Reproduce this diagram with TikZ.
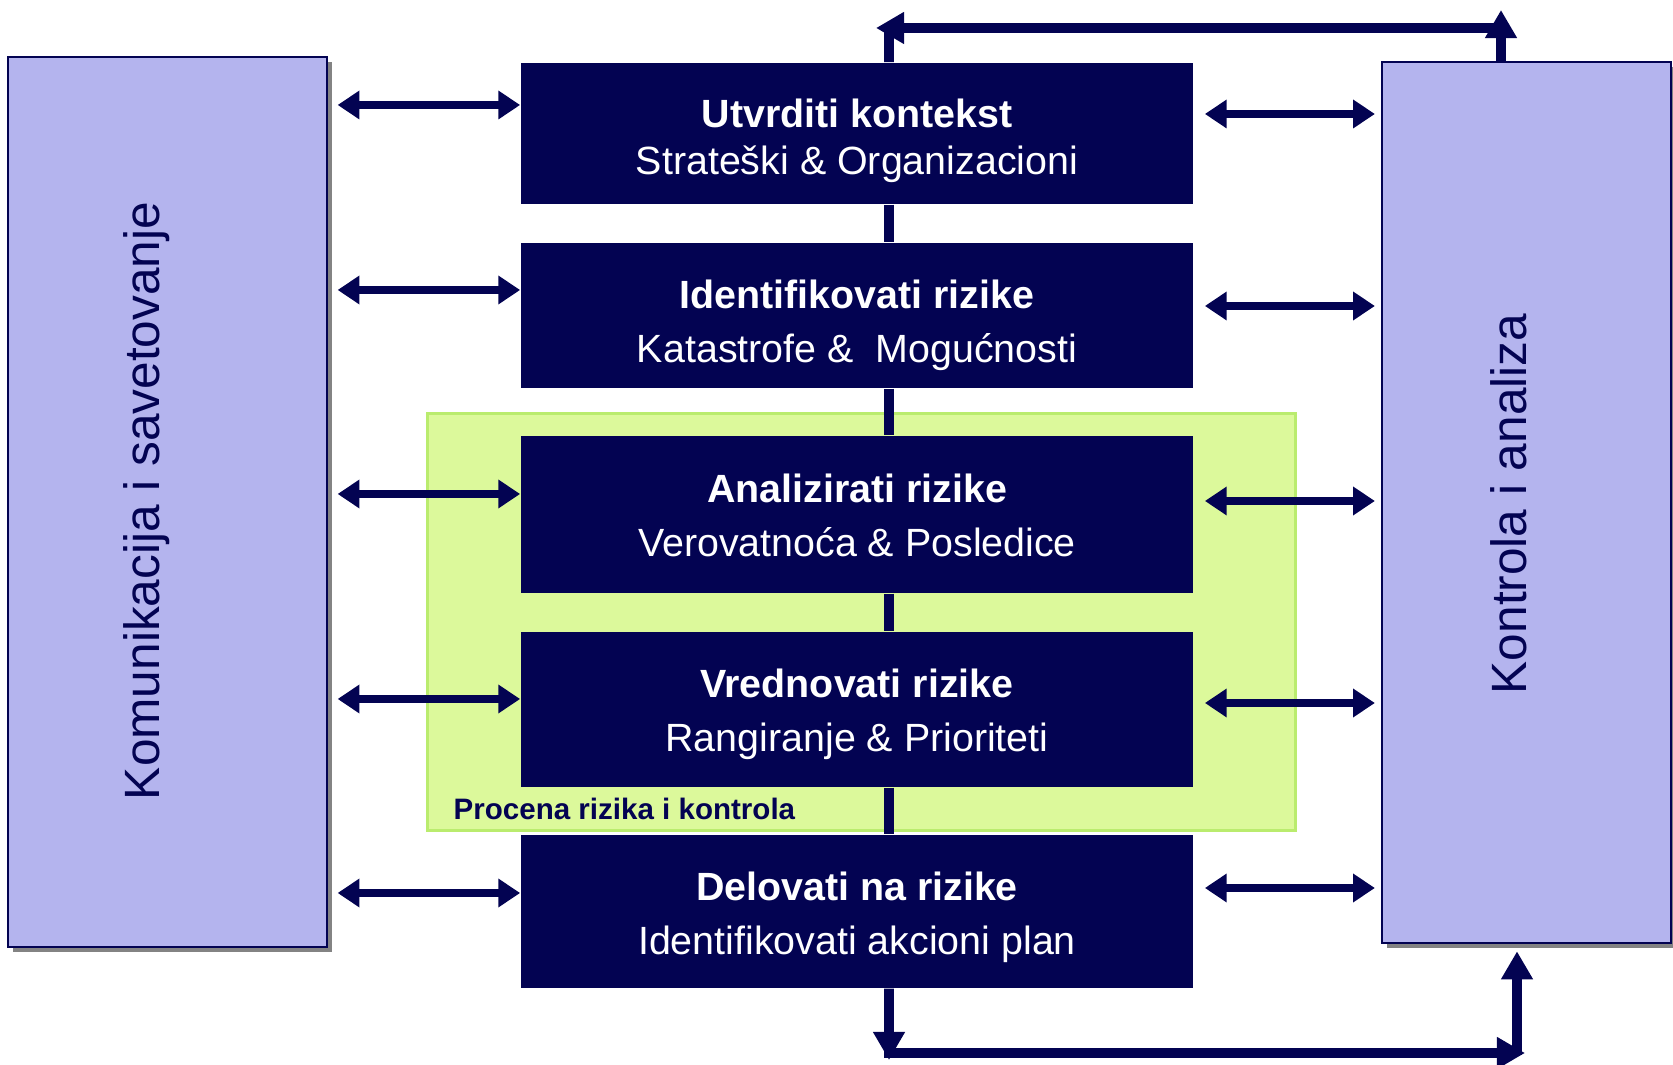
\documentclass[tikz,border=0pt]{standalone}
\usepackage{fontspec}
\setmainfont{Liberation Sans}
\usetikzlibrary{positioning,arrows.meta,shadows,calc}
\definecolor{deepnavy}{RGB}{3,3,82}
\definecolor{lilacbg}{RGB}{180,180,238}
\definecolor{limebg}{RGB}{220,249,155}
\definecolor{limedraw}{RGB}{186,236,110}

\begin{document}
\begin{tikzpicture}[x=0.01cm,y=-0.01cm,
    stagebox/.style={fill=deepnavy,minimum width=6.72cm,inner sep=0pt},
    stagetext/.style={text=white,inner sep=0pt,align=center,font=\fontsize{11.2}{13.4}\selectfont},
    sidebox/.style={fill=lilacbg,draw=deepnavy,line width=.6pt,inner sep=0pt,drop shadow={shadow xshift=.05cm,shadow yshift=-.05cm,fill=black!65,opacity=.75}},
    sidetext/.style={rotate=90,text=deepnavy,inner sep=0pt,font=\fontsize{14.1}{16}\selectfont},
    duoarrow/.style={{Triangle[length=6.2pt,width=7.8pt]}-{Triangle[length=6.2pt,width=7.8pt]},line width=2.3pt,deepnavy},
    loopline/.style={line width=2.8pt,deepnavy},
    looptip/.style={loopline,-{Triangle[length=8pt,width=8.6pt]}},
    spine/.style={line width=2.7pt,deepnavy}]
    \useasboundingbox (0,0) rectangle (1673,1065);
    % side panels
    \node[sidebox,minimum width=3.18cm,minimum height=8.89cm] (talk) at (167.5,502) {};
    \node[sidebox,minimum width=2.89cm,minimum height=8.81cm] (ctrl) at (1526.5,502.5) {};
    \node[sidetext] (talklabel) at (147,501) {Komunikacija i savetovanje};
    \node[sidetext] (ctrllabel) at (1509,504) {Kontrola i analiza};
    % assessment zone
    \node[fill=limebg,draw=limedraw,line width=.8pt,minimum width=8.67cm,minimum height=4.16cm] (zone) at (861.5,622) {};
    \node[anchor=west,inner sep=0pt,text=deepnavy,font=\fontsize{8.4}{10}\selectfont\bfseries] (zonelabel) at (453,809) {Procena rizika i kontrola};
    % process steps
    \node[stagebox,minimum height=1.41cm] (b1) at (857,133.5) {};
    \node[stagebox,minimum height=1.45cm] (b2) at (857,315.5) {};
    \node[stagebox,minimum height=1.57cm] (b3) at (857,514.5) {};
    \node[stagebox,minimum height=1.55cm] (b4) at (857,709.5) {};
    \node[stagebox,minimum height=1.53cm] (b5) at (857,911.5) {};
    \node[stagetext] (t1) at ([yshift=-.075cm]b1.center) {\textbf{Utvrditi kontekst}\\Strateški \& Organizacioni};
    \node[stagetext] (t2) at ([yshift=-.1cm]b2.center) {\textbf{Identifikovati rizike}\\[2pt]Katastrofe \& \ Mogućnosti};
    \node[stagetext] (t3) at ([yshift=-.01cm]b3.center) {\textbf{Analizirati rizike}\\[2pt]Verovatnoća \& Posledice};
    \node[stagetext] (t4) at ([yshift=-.05cm]b4.center) {\textbf{Vrednovati rizike}\\[2pt]Rangiranje \& Prioriteti};
    \node[stagetext] (t5) at ([yshift=-.06cm]b5.center) {\textbf{Delovati na rizike}\\[2pt]Identifikovati akcioni plan};
    \foreach \a/\b in {b1/b2,b2/b3,b3/b4,b4/b5}{\draw[spine] ([xshift=.32cm]\a.south) -- ([xshift=.32cm]\b.north);}
    % links to the side panels
    \foreach \b/\y in {b1/105,b2/290,b3/494,b4/699,b5/893}{\draw[duoarrow] ($(talk.east |- 0,\y)+(10,0)$) -- (\b.west |- 0,\y);}
    \foreach \b/\y in {b1/114,b2/306,b3/501,b4/703,b5/888}{\draw[duoarrow] ($(\b.east |- 0,\y)+(11,0)$) -- ($(ctrl.west |- 0,\y)+(-6,0)$);}
    % feedback loops
    \coordinate (topturn) at (1501,28);
    \coordinate (topend) at (876,28);
    \coordinate (bottomturn) at (889,1053);
    \coordinate (bottomend) at (1525,1053);
    \draw[loopline] ([xshift=.32cm]b1.north) -- (889,30);
    \draw[looptip] (ctrl.north -| topturn) -- (1501,10);
    \draw[looptip] ([xshift=1.4pt]topturn) -- (topend);
    \draw[looptip] ([xshift=.32cm]b5.south) -- (889,1060);
    \draw[looptip] ([xshift=-1.4pt]bottomturn) -- (bottomend);
    \draw[looptip] (1517,1055) -- ($(ctrl.south -| 1517,0)+(0,7)$);
  \end{tikzpicture}
\end{document}
